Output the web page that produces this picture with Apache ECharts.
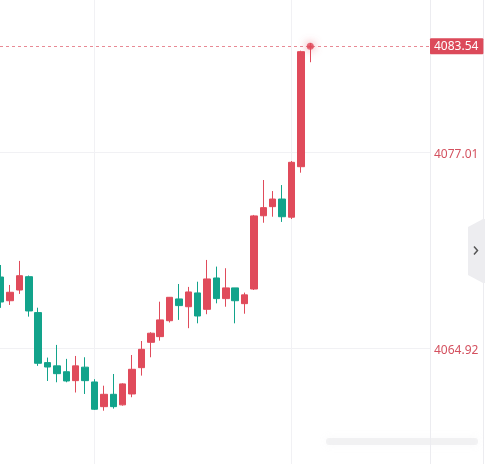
<!DOCTYPE html>
<html>
<head>
<meta charset="utf-8">
<script src="https://cdn.jsdelivr.net/npm/echarts@6/dist/echarts.min.js"></script>
<style>
html,body{margin:0;padding:0;background:#fff;}
#c{width:485px;height:464px;}
</style>
</head>
<body>
<div id="c"></div>
<script>
// candle index (position on the time axis)
var barIndex = [0,1,2,3,4,5,6,7,8,9,10,11,12,13,14,15,16,17,18,19,20,21,22,23,24,25,26,27,28,29,30,31,32,33];
var opens  = [4069.33,4067.87,4068.53,4069.35,4067.14,4064.06,4063.86,4063.50,4062.95,4063.78,4062.87,4061.35,4062.11,4061.46,4062.13,4063.75,4065.31,4065.66,4066.64,4067.98,4067.50,4068.35,4067.34,4069.27,4068.00,4068.66,4067.69,4068.59,4073.10,4073.66,4074.13,4073.01,4076.12,4083.48];
var closes = [4067.79,4068.39,4069.41,4067.24,4064.02,4063.79,4063.38,4062.93,4063.86,4062.95,4061.19,4062.11,4061.35,4062.75,4063.65,4064.88,4065.87,4066.69,4068.08,4067.57,4068.41,4066.93,4069.21,4068.00,4068.66,4067.87,4068.23,4073.09,4073.60,4074.13,4073.04,4076.39,4083.20,4083.54];
var lows   = [4067.43,4067.61,4068.29,4066.89,4063.86,4062.93,4062.85,4062.85,4062.22,4062.13,4061.15,4061.10,4061.23,4061.41,4061.93,4063.26,4064.39,4065.41,4066.53,4066.69,4066.18,4066.48,4067.04,4067.71,4067.50,4066.48,4067.07,4068.53,4072.67,4073.04,4072.72,4072.90,4075.75,4082.55];
var highs  = [4070.07,4068.84,4070.32,4069.42,4067.44,4064.37,4065.15,4064.29,4064.47,4064.39,4063.04,4062.64,4063.36,4062.79,4064.53,4065.39,4065.93,4067.81,4068.10,4068.90,4068.72,4069.04,4070.38,4069.97,4069.87,4068.66,4068.37,4073.15,4075.30,4074.62,4074.99,4076.47,4083.26,4083.73];
var yTickValues = [4064.92, 4077.01];
var lastPrice = 4083.54;
var timeGridIndex = [10, 31];

var RED = '#e04b5b', GREEN = '#12a38b';
var candleData = barIndex.map(function (x, i) {
  return [x, opens[i], closes[i], lows[i], highs[i]];
});

var gridMarks = yTickValues.map(function (v) {
  return { yAxis: v };
}).concat(timeGridIndex.map(function (x) {
  return { xAxis: x };
}));

var chart = echarts.init(document.getElementById('c'), null, { renderer: 'canvas' });
chart.setOption({
  animation: false,
  backgroundColor: '#ffffff',
  grid: { left: 0, right: 55, top: 0, bottom: 0, containLabel: false },
  xAxis: {
    type: 'value', min: -0.0736, max: 45.763,
    axisLine: { show: false }, axisTick: { show: false }, axisLabel: { show: false }, splitLine: { show: false }
  },
  yAxis: {
    type: 'value', position: 'right', min: 4057.82, max: 4086.38, scale: true,
    axisLine: { show: true, onZero: false, lineStyle: { color: '#ececf0' } },
    axisTick: { show: false, customValues: yTickValues },
    splitLine: { show: false },
    axisLabel: {
      customValues: yTickValues,
      formatter: function (v) { return v.toFixed(2); },
      color: '#d4515f', fontFamily: 'Noto Sans', fontSize: 12, margin: 4, align: 'left',
      verticalAlign: 'top', lineHeight: 12, padding: [-4, 0, 0, 0]
    }
  },
  series: [{
    type: 'line',
    data: [],
    z: 0,
    markLine: {
      silent: true, symbol: 'none', z: 0, animation: false,
      label: { show: false },
      lineStyle: { color: '#f1f1f4', type: 'solid', width: 1 },
      data: gridMarks
    }
  }, {
    type: 'candlestick',
    data: candleData,
    z: 3,
    encode: { x: 0, y: [1, 2, 3, 4] },
    barWidth: 7,
    itemStyle: { color: RED, color0: GREEN, borderColor: RED, borderColor0: GREEN, borderWidth: 1 },
    markLine: {
      silent: true, symbol: 'none', animation: false,
      data: [{
        yAxis: lastPrice,
        lineStyle: { color: '#e88a95', type: [3, 3], width: 1 },
        label: {
          show: true, position: 'end', distance: 0,
          formatter: lastPrice.toFixed(2),
          backgroundColor: '#dc4a5a', color: '#fff',
          fontFamily: 'Noto Sans', fontSize: 12,
          padding: [2, 5, 2, 4], borderRadius: 1
        }
      }]
    }
  }, {
    type: 'scatter',
    data: [[barIndex[barIndex.length - 1], lastPrice]],
    symbolSize: 7,
    itemStyle: { color: RED, shadowBlur: 8, shadowColor: 'rgba(224,75,91,0.9)' },
    z: 5
  }],
  graphic: [
    { type: 'line', shape: { x1: 483.5, y1: 0, x2: 483.5, y2: 464 }, style: { stroke: '#ececf0', lineWidth: 1 } },
    { type: 'polygon', shape: { points: [[483, 219], [468, 227], [468, 275], [483, 283], [485, 283], [485, 219]] }, style: { fill: '#ededf0' } },
    { type: 'polyline', shape: { points: [[474, 246.5], [477.5, 250.5], [474, 254.5]] }, style: { stroke: '#555', lineWidth: 1.5, fill: null } },
    { type: 'rect', shape: { x: 326, y: 438, width: 152, height: 7, r: 3 }, style: { fill: 'rgba(205,205,210,0.22)', shadowBlur: 8, shadowColor: 'rgba(200,200,205,0.5)' } }
  ]
});
</script>
</body>
</html>
